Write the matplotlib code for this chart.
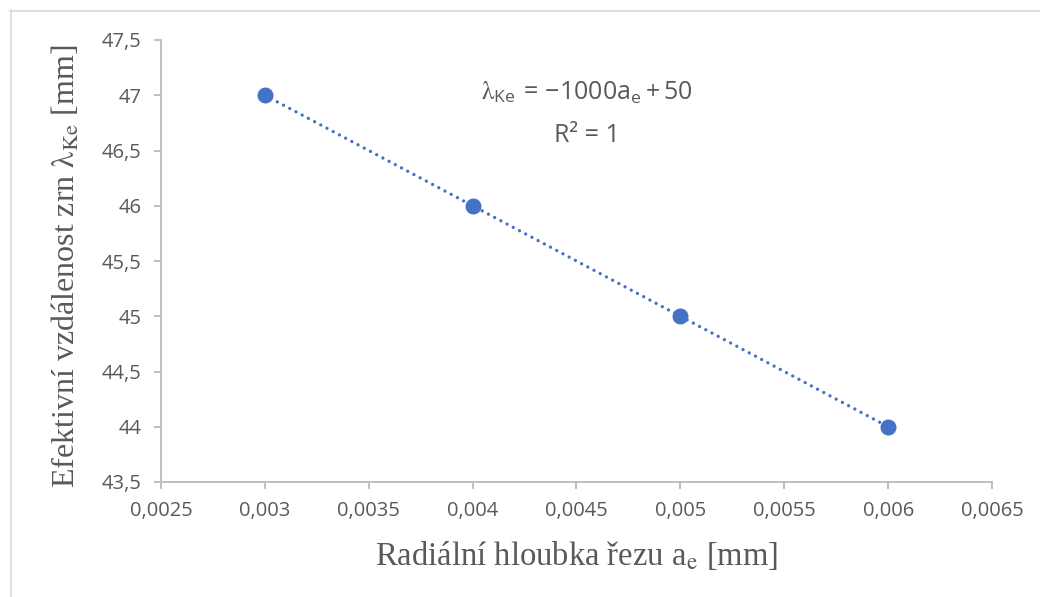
import matplotlib
matplotlib.use("Agg")
import matplotlib.pyplot as plt
from matplotlib.lines import Line2D
from matplotlib.ticker import FuncFormatter

# data
a_e = [0.003, 0.004, 0.005, 0.006]
lam_ke = [47, 46, 45, 44]
x_ticks = [0.0025, 0.003, 0.0035, 0.004, 0.0045, 0.005, 0.0055, 0.006, 0.0065]
y_ticks = [43.5, 44, 44.5, 45, 45.5, 46, 46.5, 47, 47.5]

plt.rcParams['mathtext.fontset'] = 'stix'

gray = '#595959'
axis_gray = '#BFBFBF'
blue = '#4472C4'

fig = plt.figure(figsize=(10.4, 5.97), dpi=100)
ax = fig.add_axes([161 / 1040, 1 - 482 / 597, (992 - 161) / 1040, (482 - 40) / 597])

# linear trendline (least squares, as Excel does)
n = len(a_e)
mx = sum(a_e) / n
my = sum(lam_ke) / n
k = sum((x - mx) * (y - my) for x, y in zip(a_e, lam_ke)) / sum((x - mx) ** 2 for x in a_e)
q = my - k * mx
ax.plot([a_e[0], a_e[-1]], [k * a_e[0] + q, k * a_e[-1] + q], color=blue,
        linestyle=(0, (0.01, 2.1)), linewidth=2.4, dash_capstyle='round', zorder=2)
ax.plot(a_e, lam_ke, 'o', color=blue, markersize=10.5, zorder=3)

ax.set_xlim(x_ticks[0], x_ticks[-1])
ax.set_ylim(y_ticks[0], y_ticks[-1])
ax.set_xticks(x_ticks)
ax.set_yticks(y_ticks)
fmt = FuncFormatter(lambda v, p: ('%g' % v).replace('.', ','))
ax.xaxis.set_major_formatter(fmt)
ax.yaxis.set_major_formatter(fmt)

for s in ['top', 'right']:
    ax.spines[s].set_visible(False)
for s in ['left', 'bottom']:
    ax.spines[s].set_color(axis_gray)
    ax.spines[s].set_linewidth(1.4)
ax.tick_params(axis='both', direction='out', length=5, width=1.4, color=axis_gray,
               labelcolor=gray, labelsize=14.5)
ax.tick_params(axis='x', pad=9)
ax.tick_params(axis='y', pad=9)
for lab in ax.get_xticklabels() + ax.get_yticklabels():
    lab.set_family('Open Sans')

ax.set_xlabel(r'Radiální hloubka řezu a$_\mathrm{e}$ [mm]', family='Liberation Serif',
              fontsize=23.5, color=gray)
ax.xaxis.set_label_coords(0.5, 1 - (555 - 40) / 442)
ax.xaxis.label.set_va('center')
ax.set_ylabel(r'Efektivní vzdálenost zrn $\mathrm{\lambda}_\mathrm{Ke}$ [mm]',
              family='Liberation Serif', fontsize=23, color=gray)
ax.yaxis.set_label_coords(-(161 - 66) / 831, 1 - (266 - 40) / 442)
ax.yaxis.label.set_va('center')

ax.text(0.00455, 47.02,
        r'$\mathrm{\lambda}_{\mathregular{Ke}}\mathregular{\:=\:-1000a_{e}\:+\:50}$',
        family='Open Sans', fontsize=18, color=gray, ha='center', va='center')
ax.text(0.00455, 46.64, r'R² = 1', family='Open Sans', fontsize=18, color=gray,
        ha='center', va='center')

# chart area border (cropped at right and bottom)
fig.add_artist(Line2D([10 / 1040, 1.0], [1 - 10.5 / 597, 1 - 10.5 / 597], color='#D9D9D9', linewidth=1.2))
fig.add_artist(Line2D([10.5 / 1040, 10.5 / 1040], [0.0, 1 - 10 / 597], color='#D9D9D9', linewidth=1.2))

fig.savefig('out.png', dpi=100)
